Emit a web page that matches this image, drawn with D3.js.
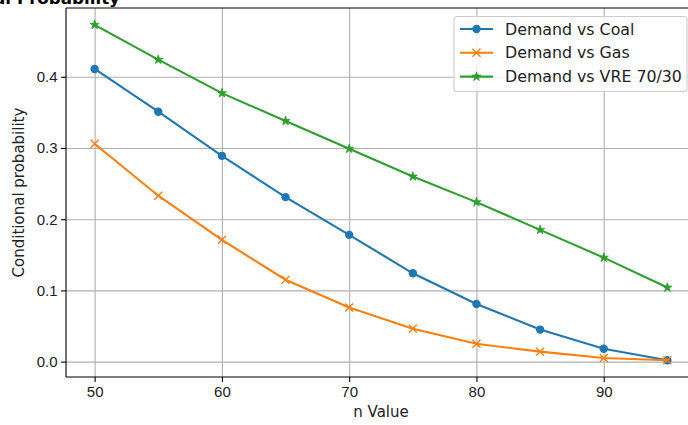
<!DOCTYPE html>
<meta charset="utf-8">
<style>
    body { margin: 0; background: #fff; }
    svg { display: block; font-family: "DejaVu Sans", sans-serif; }
    .grid line { stroke: #b0b0b0; stroke-width: 1.1px; }
    .grid path { display: none; }
    .axis path, .axis line { stroke: #000; stroke-width: 1.1px; }
    .axis text { font-size: 15px; fill: #222; }
    .series { fill: none; stroke-width: 2.1px; }
</style>
<svg width="688" height="425"></svg>
<script src="https://d3js.org/d3.v7.min.js"></script>
<script>
    var nValues = [50, 55, 60, 65, 70, 75, 80, 85, 90, 95];
    var coal = [0.411, 0.351, 0.289, 0.231, 0.178, 0.124, 0.081, 0.045, 0.018, 0.002];
    var gas = [0.306, 0.233, 0.171, 0.115, 0.076, 0.046, 0.025, 0.014, 0.005, 0.002];
    var vre = [0.473, 0.424, 0.377, 0.338, 0.299, 0.260, 0.224, 0.185, 0.146, 0.104];
    var xTicks = [50, 60, 70, 80, 90];
    var yTicks = [0.0, 0.1, 0.2, 0.3, 0.4];
    var seriesNames = ['Demand vs Coal', 'Demand vs Gas', 'Demand vs VRE 70/30'];
    var colors = ['#1f77b4', '#ff7f0e', '#2ca02c'];
    var markers = ['circle', 'x', 'star'];

    var svgElem = d3.select('svg');
    var margin = {left: 66, top: 8, right: -8, bottom: 48};
    var width = +svgElem.attr('width') - margin.left - margin.right;
    var height = +svgElem.attr('height') - margin.top - margin.bottom;

    var g = svgElem.append('g')
        .attr('transform', `translate(${margin.left}, ${margin.top})`);

    // matplotlib style 5% padding
    var x = d3.scaleLinear().domain([47.75, 97.25]).range([0, width]);
    var y = d3.scaleLinear().domain([-0.0216, 0.4966]).range([height, 0]);

    // title, mostly cut off at the top
    svgElem.append('text')
        .attr('x', 120).attr('y', 4)
        .attr('text-anchor', 'end')
        .style('font-size', '16.7px').style('font-weight', 'bold')
        .text('Conditional Probability');

    // grid
    g.append('g').attr('class', 'grid')
        .attr('transform', `translate(0, ${height})`)
        .call(d3.axisBottom(x).tickValues(xTicks).tickSize(-height).tickFormat(''));
    g.append('g').attr('class', 'grid')
        .call(d3.axisLeft(y).tickValues(yTicks).tickSize(-width).tickFormat(''));

    // axes
    var xAxis = g.append('g').attr('class', 'axis')
        .attr('transform', `translate(0, ${height})`)
        .call(d3.axisBottom(x).tickValues(xTicks).tickSize(4.9).tickPadding(4.4).tickSizeOuter(0));
    var yAxis = g.append('g').attr('class', 'axis')
        .call(d3.axisLeft(y).tickValues(yTicks).tickSize(4.9).tickPadding(3.6).tickSizeOuter(0).tickFormat(d3.format('.1f')));
    xAxis.select('.domain').remove();
    yAxis.select('.domain').remove();
    g.append('line').attr('x1', 0).attr('x2', 0).attr('y1', 0).attr('y2', height)
        .attr('stroke', '#000').attr('stroke-width', 1.1);
    g.append('line').attr('x1', 0).attr('x2', width).attr('y1', height).attr('y2', height)
        .attr('stroke', '#000').attr('stroke-width', 1.1);
    g.append('line').attr('x1', 0).attr('x2', width).attr('y1', 0).attr('y2', 0)
        .attr('stroke', '#000').attr('stroke-width', 1.1);

    // axis labels
    svgElem.append('text')
        .attr('x', margin.left + width / 2).attr('y', 417)
        .attr('text-anchor', 'middle').style('font-size', '15px').attr('fill', '#222')
        .text('n Value');
    svgElem.append('text')
        .attr('transform', `translate(24, ${margin.top + height / 2}) rotate(-90)`)
        .attr('text-anchor', 'middle').style('font-size', '15px').attr('fill', '#222')
        .text('Conditional probability');

    var allSeries = [coal, gas, vre].map(function (vals, i) {
        return {
            name: seriesNames[i],
            color: colors[i],
            marker: markers[i],
            values: nValues.map(function (n, j) { return {n: n, v: vals[j]}; })
        };
    });

    var line = d3.line()
        .x(function (d) { return x(d.n); })
        .y(function (d) { return y(d.v); });

    function drawMarker(sel, type, color) {
        if (type === 'circle') {
            sel.append('circle').attr('r', 4.2).attr('fill', color);
        } else if (type === 'x') {
            sel.append('path').attr('d', 'M-4,-4L4,4M-4,4L4,-4')
                .attr('stroke', color).attr('stroke-width', 1.4).attr('fill', 'none');
        } else {
            sel.append('path').attr('d', d3.symbol().type(d3.symbolStar).size(26)())
                .attr('fill', color).attr('stroke', color).attr('stroke-width', 0.8);
        }
    }

    var seriesElem = g.selectAll('.s')
        .data(allSeries)
        .enter()
        .append('g');
    seriesElem.append('path')
        .attr('class', 'series')
        .attr('stroke', function (d) { return d.color; })
        .attr('d', function (d) { return line(d.values); });
    seriesElem.each(function (s) {
        d3.select(this).selectAll('.m')
            .data(s.values)
            .enter()
            .append('g')
            .attr('transform', function (d) { return `translate(${x(d.n)}, ${y(d.v)})`; })
            .each(function () { drawMarker(d3.select(this), s.marker, s.color); });
    });

    // legend
    var legend = svgElem.append('g').attr('transform', 'translate(454, 16.5)');
    legend.append('rect')
        .attr('width', 233).attr('height', 75).attr('rx', 3)
        .attr('fill', 'rgba(255,255,255,0.8)').attr('stroke', '#cccccc').attr('stroke-width', 1.1);
    allSeries.forEach(function (s, i) {
        var row = legend.append('g').attr('transform', `translate(0, ${12.5 + i * 23.8})`);
        row.append('line').attr('x1', 6).attr('x2', 39).attr('y1', 0).attr('y2', 0)
            .attr('stroke', s.color).attr('stroke-width', 2.1);
        drawMarker(row.append('g').attr('transform', 'translate(22.5, 0)'), s.marker, s.color);
        row.append('text').attr('x', 51).attr('y', 5.5)
            .style('font-size', '15.8px').attr('fill', '#222').text(s.name);
    });
</script>
